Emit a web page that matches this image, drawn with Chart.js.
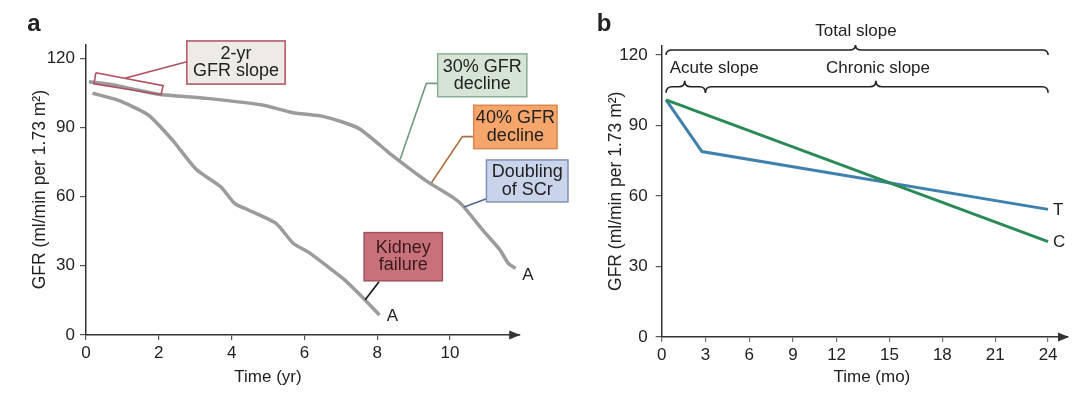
<!DOCTYPE html>
<html>
<head>
<meta charset="utf-8">
<script src="https://cdn.jsdelivr.net/npm/chart.js@4.4.1/dist/chart.umd.min.js"></script>
<style>
    body { margin: 0; background: #fff; }
    #wrap { position: relative; width: 1080px; height: 394px; overflow: hidden; }
    canvas { position: absolute; top: 0; }
    #chartA { left: 0; }
    #chartB { left: 540px; }
</style>
</head>
<body>
<div id="wrap">
    <canvas id="chartA" width="600" height="394"></canvas>
    <canvas id="chartB" width="540" height="394"></canvas>
</div>
<script>
// ---- data, panel a (time in years, GFR) ----
const yearsSlow = [0.08, 0.76, 1.3, 1.99, 3.32, 4.84, 5.69, 6.54, 7.49, 8.34, 9.38, 10.05, 10.33, 10.9, 11.37, 11.6, 11.8];
const gfrSlow = [109.8, 108.4, 106.6, 104.4, 102.6, 99.7, 96.4, 94.7, 89.6, 78.8, 66.5, 60, 56.4, 45.5, 36.9, 31.1, 28.9];
const yearsFast = [0.18, 0.86, 1.71, 2.37, 3.04, 3.7, 4.08, 4.46, 5.22, 5.69, 6.16, 6.64, 7.11, 7.58, 8.06];
const gfrFast = [104.8, 101.9, 95.4, 84.6, 71.6, 64.3, 57.1, 54.2, 48.4, 39.8, 35.4, 29.6, 23.8, 16.6, 8.7];

// ---- data, panel b (time in months, GFR) ----
const monthsT = [0.3, 2.76, 24];
const gfrT = [100.9, 78.9, 54.3];
const monthsC = [0.3, 24];
const gfrC = [100.9, 40.6];

const gfrTicks = [0, 30, 60, 90, 120];
const yearTicks = [0, 2, 4, 6, 8, 10];
const monthTicks = [0, 3, 6, 9, 12, 15, 18, 21, 24];

const colors = {
    axis: '#333',
    text: '#222',
    curve: '#9b9b9b',
    treated: '#3f80ad',
    control: '#2b8a56'
};

const FONT = "'Liberation Sans', Arial, sans-serif";
Chart.defaults.font.family = FONT;
Chart.defaults.font.size = 17;
Chart.defaults.color = colors.text;

// the month axis in the figure is stretched after month 12
const chronicStretch = 1.209;
const warp = v => v <= 12 ? v : 12 + (v - 12) * chronicStretch;
const unwarp = w => w <= 12 ? w : 12 + (w - 12) / chronicStretch;

class WarpedScale extends Chart.LinearScale {
    getPixelForValue(value) {
        const a = warp(this.min), b = warp(this.max);
        return this.getPixelForDecimal((warp(value) - a) / (b - a));
    }
    getValueForPixel(pixel) {
        const a = warp(this.min), b = warp(this.max);
        return unwarp(a + this.getDecimalForPixel(pixel) * (b - a));
    }
}
WarpedScale.id = 'warped';
WarpedScale.defaults = Chart.LinearScale.defaults;
Chart.register(WarpedScale);

const zip = (xs, ys) => xs.map((x, i) => ({ x: x, y: ys[i] }));
const keepTicks = list => scale => {
    scale.ticks = list.map(v => ({ value: v }));
};
const toPx = (chart, x, y) => [chart.scales.x.getPixelForValue(x), chart.scales.y.getPixelForValue(y)];

function polyline(ctx, chart, pts, color, width) {
    ctx.beginPath();
    pts.forEach((p, i) => {
        const [px, py] = toPx(chart, p[0], p[1]);
        if (i === 0) ctx.moveTo(px, py); else ctx.lineTo(px, py);
    });
    ctx.strokeStyle = color;
    ctx.lineWidth = width;
    ctx.stroke();
}

function arrowHead(ctx, chart) {
    const { right, bottom } = chart.chartArea;
    ctx.beginPath();
    ctx.moveTo(right + 1, bottom);
    ctx.lineTo(right - 10, bottom - 4.5);
    ctx.lineTo(right - 10, bottom + 4.5);
    ctx.closePath();
    ctx.fillStyle = colors.axis;
    ctx.fill();
}

function label(ctx, text, x, y, opts) {
    ctx.font = (opts && opts.font) || `17px ${FONT}`;
    ctx.fillStyle = (opts && opts.color) || colors.text;
    ctx.textAlign = (opts && opts.align) || 'center';
    ctx.textBaseline = 'middle';
    ctx.fillText(text, x, y);
}

// Panel a annotation boxes (in data units)
const boxes = [
    { t0: 2.77, t1: 5.47, v0: 127.5, v1: 108.8, lines: ['2-yr', 'GFR slope'], fill: '#eeebe7', stroke: '#b0505f', color: '#222' },
    { t0: 9.66, t1: 12.11, v0: 121.9, v1: 103.3, lines: ['30% GFR', 'decline'], fill: '#d5e4d5', stroke: '#8aae94', color: '#222' },
    { t0: 10.65, t1: 12.94, v0: 99.6, v1: 80.8, lines: ['40% GFR', 'decline'], fill: '#f6a56b', stroke: '#d9874d', color: '#222' },
    { t0: 11.0, t1: 13.24, v0: 75.9, v1: 57.7, lines: ['Doubling', 'of SCr'], fill: '#c9d4eb', stroke: '#7f90bd', color: '#222' },
    { t0: 7.64, t1: 9.79, v0: 44.4, v1: 23.5, lines: ['Kidney', 'failure'], fill: '#c9717b', stroke: '#a4525d', color: '#3a1a1f' }
];
const leaders = [
    { pts: [[1.09, 111.4], [2.77, 118.5]], color: '#b0505f' },
    { pts: [[9.66, 109.1], [9.35, 109.1], [8.63, 76.2]], color: '#6f9c80' },
    { pts: [[10.65, 86], [10.34, 86], [9.49, 66]], color: '#b0703e' },
    { pts: [[11.0, 59.1], [10.39, 55.5]], color: '#55648f' },
    { pts: [[8.05, 23.1], [7.67, 15.3]], color: '#111' }
];
const slopeFrame = [[0.27, 113.7], [2.12, 108.1], [2.06, 104.2], [0.22, 108.9], [0.27, 113.7]];

const panelAPlugin = {
    id: 'panelA',
    afterDraw(chart) {
        const ctx = chart.ctx;
        ctx.save();
        arrowHead(ctx, chart);
        polyline(ctx, chart, slopeFrame, '#b0505f', 1.6);
        leaders.forEach(l => polyline(ctx, chart, l.pts, l.color, 1.6));
        boxes.forEach(b => {
            const [x1, y1] = toPx(chart, b.t0, b.v0);
            const [x2, y2] = toPx(chart, b.t1, b.v1);
            ctx.fillStyle = b.fill;
            ctx.fillRect(x1, y1, x2 - x1, y2 - y1);
            ctx.strokeStyle = b.stroke;
            ctx.lineWidth = 1.5;
            ctx.strokeRect(x1, y1, x2 - x1, y2 - y1);
            const cy = (y1 + y2) / 2;
            b.lines.forEach((line, i) => {
                label(ctx, line, (x1 + x2) / 2, cy + (i - (b.lines.length - 1) / 2) * 17.5, { font: `18px ${FONT}`, color: b.color });
            });
        });
        let [ax, ay] = toPx(chart, 12.14, 26);
        label(ctx, 'A', ax, ay);
        [ax, ay] = toPx(chart, 8.42, 7.9);
        label(ctx, 'A', ax, ay);
        label(ctx, 'Time (yr)', chart.scales.x.getPixelForValue(5), 377);
        label(ctx, 'a', 34, 24, { font: `bold 24px ${FONT}` });
        ctx.restore();
    }
};

function brace(ctx, x1, x2, xm, y, h) {
    const r = 6;
    ctx.beginPath();
    ctx.moveTo(x1, y + h);
    ctx.quadraticCurveTo(x1, y, x1 + r, y);
    ctx.lineTo(xm - r, y);
    ctx.quadraticCurveTo(xm, y, xm, y - h);
    ctx.quadraticCurveTo(xm, y, xm + r, y);
    ctx.lineTo(x2 - r, y);
    ctx.quadraticCurveTo(x2, y, x2, y + h);
    ctx.strokeStyle = '#222';
    ctx.lineWidth = 1.6;
    ctx.stroke();
}

const panelBPlugin = {
    id: 'panelB',
    afterDraw(chart) {
        const ctx = chart.ctx;
        const x = v => chart.scales.x.getPixelForValue(v);
        const y = v => chart.scales.y.getPixelForValue(v);
        ctx.save();
        arrowHead(ctx, chart);
        brace(ctx, x(0.3), x(24), x(13.07), y(122.1), 5);
        brace(ctx, x(0.3), x(3), x(1.58), y(106.5), 6);
        brace(ctx, x(3), x(24), x(14.23), y(106.5), 6);
        label(ctx, 'Total slope', x(13.1), y(129.9));
        label(ctx, 'Acute slope', x(3.6), y(114.3));
        label(ctx, 'Chronic slope', x(14.35), y(114.3));
        label(ctx, 'T', x(24) + 5, y(gfrT[gfrT.length - 1]) + 1, { align: 'left' });
        label(ctx, 'C', x(24) + 5, y(gfrC[gfrC.length - 1]) + 1, { align: 'left' });
        label(ctx, 'Time (mo)', x(14), 377);
        label(ctx, 'b', 64, 24, { font: `bold 24px ${FONT}` });
        ctx.restore();
    }
};

const yAxis = (max, width, tickPad) => ({
    type: 'linear',
    min: 0,
    max: max,
    afterFit: s => { s.width = width; },
    afterBuildTicks: keepTicks(gfrTicks),
    border: { display: true, color: colors.axis, width: 1.5 },
    grid: { drawOnChartArea: false, drawTicks: true, tickLength: 6, color: '#555', lineWidth: 1.2 },
    ticks: { stepSize: 30, includeBounds: false, padding: tickPad, color: colors.text },
    title: { display: true, text: 'GFR (ml/min per 1.73 m²)', color: colors.text, font: { size: 17.5 }, padding: { top: 4, bottom: 0 } }
});

// Panel a
new Chart(document.getElementById('chartA').getContext('2d'), {
    type: 'line',
    data: {
        datasets: [
            { data: zip(yearsSlow, gfrSlow), borderColor: colors.curve, borderWidth: 3.5, pointRadius: 0, tension: 0.2 },
            { data: zip(yearsFast, gfrFast), borderColor: colors.curve, borderWidth: 3.5, pointRadius: 0, tension: 0.2 }
        ]
    },
    options: {
        responsive: false,
        animation: false,
        devicePixelRatio: 1,
        layout: { padding: { left: 25.8, top: 44.4, right: 80.8, bottom: 0 } },
        plugins: { legend: { display: false }, tooltip: { enabled: false } },
        scales: {
            x: {
                type: 'linear',
                min: 0,
                max: 11.9,
                afterFit: s => { s.height = 59; },
                afterBuildTicks: keepTicks(yearTicks),
                border: { display: true, color: colors.axis, width: 1.5 },
                grid: { drawOnChartArea: false, drawTicks: true, tickLength: 5, color: '#555', lineWidth: 1.2 },
                ticks: { stepSize: 2, includeBounds: false, padding: 3, autoSkip: false, maxRotation: 0, color: colors.text }
            },
            y: yAxis(126, 60.2, 5)
        }
    },
    plugins: [panelAPlugin]
});

// Panel b
new Chart(document.getElementById('chartB').getContext('2d'), {
    type: 'line',
    data: {
        datasets: [
            { data: zip(monthsC, gfrC), borderColor: colors.control, borderWidth: 3, pointRadius: 0 },
            { data: zip(monthsT, gfrT), borderColor: colors.treated, borderWidth: 3, pointRadius: 0 }
        ]
    },
    options: {
        responsive: false,
        animation: false,
        devicePixelRatio: 1,
        layout: { padding: { left: 61.8, top: 45.6, right: 12, bottom: 0 } },
        plugins: { legend: { display: false }, tooltip: { enabled: false } },
        scales: {
            x: {
                type: 'warped',
                min: 0,
                max: 25.13,
                afterFit: s => { s.height = 57; },
                afterBuildTicks: keepTicks(monthTicks),
                border: { display: true, color: colors.axis, width: 1.5 },
                grid: { drawOnChartArea: false, drawTicks: true, tickLength: 5, color: '#777', lineWidth: 1.2 },
                ticks: { stepSize: 3, includeBounds: false, padding: 3, autoSkip: false, maxRotation: 0, color: colors.text }
            },
            y: yAxis(124, 59.9, 8)
        }
    },
    plugins: [panelBPlugin]
});
</script>
</body>
</html>
